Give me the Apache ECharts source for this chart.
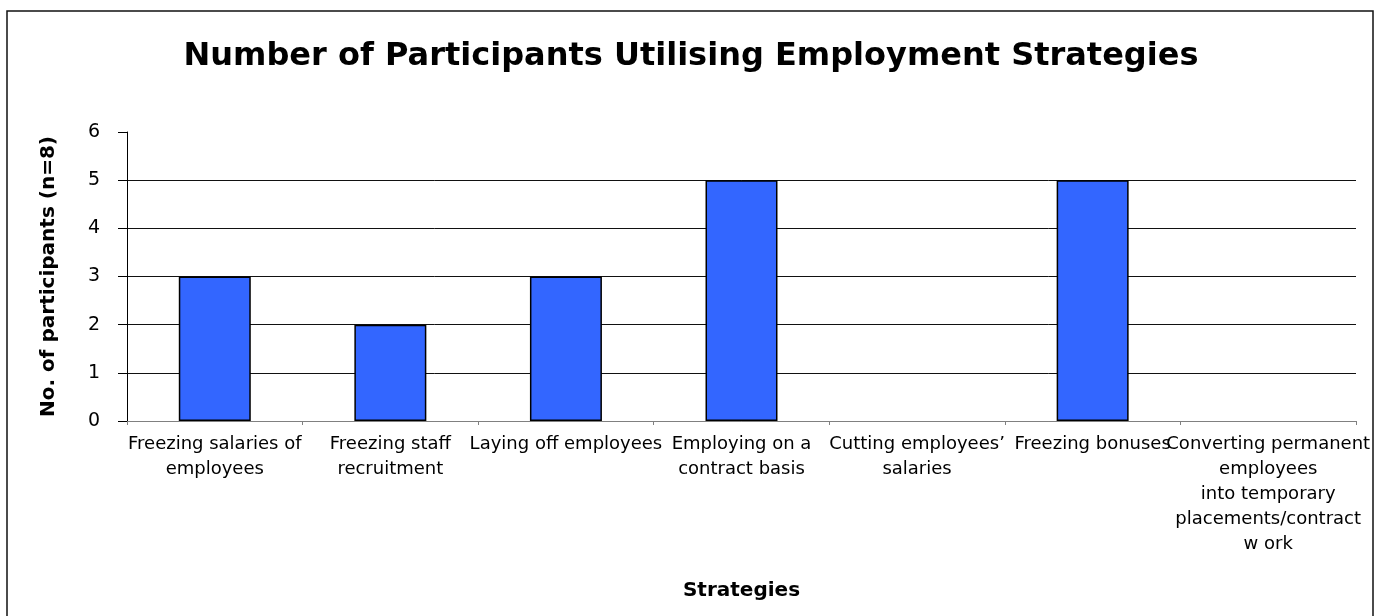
<!DOCTYPE html>
<html>
<head>
<meta charset="utf-8">
<script src="https://cdn.jsdelivr.net/npm/echarts@6/dist/echarts.min.js"></script>
<style>html,body{margin:0;padding:0;background:#fff}#c{width:1382px;height:616px}</style>
</head>
<body>
<div id="c"></div>
<script>
const titleText = 'Number of Participants Utilising Employment Strategies';
const categories = [
  'Freezing salaries of\nemployees',
  'Freezing staff\nrecruitment',
  'Laying off employees',
  'Employing on a\ncontract basis',
  'Cutting employees\u2019\nsalaries',
  'Freezing bonuses',
  'Converting permanent\nemployees\ninto temporary\nplacements/contract\nw ork'
];
const participants = [3, 2, 3, 5, 0, 5, 0];
const yTicks = [0, 1, 2, 3, 4, 5, 6];
const xAxisTitle = 'Strategies';
const yAxisTitle = 'No. of participants (n=8)';

const FONT = 'DejaVu Sans';
const chart = echarts.init(document.getElementById('c'), null, {renderer: 'canvas'});
chart.setOption({
  animation: false,
  backgroundColor: '#fff',
  textStyle: {fontFamily: FONT, color: '#000'},
  title: {
    text: titleText, left: 'center', top: 36,
    textStyle: {fontFamily: FONT, fontSize: 32, fontWeight: 'bold', color: '#000'}
  },
  graphic: [{
    type: 'rect', shape: {x: 7, y: 11, width: 1366, height: 640},
    style: {fill: 'none', stroke: '#111', lineWidth: 1.5}, silent: true
  }],
  grid: {left: 127, right: 26, top: 132, bottom: 195, containLabel: false},
  xAxis: {
    type: 'category', data: categories,
    name: xAxisTitle, nameLocation: 'middle', nameGap: 160,
    nameTextStyle: {fontFamily: FONT, fontSize: 20, fontWeight: 'bold', color: '#000'},
    axisLine: {lineStyle: {color: '#808080', width: 1}},
    axisTick: {show: true, length: 4, lineStyle: {color: '#808080'}, alignWithLabel: false},
    axisLabel: {interval: 0, margin: 11, fontSize: 18, lineHeight: 25, color: '#000', fontFamily: FONT, align: 'center'},
    splitLine: {show: false}
  },
  yAxis: {
    type: 'value', min: yTicks[0], max: yTicks[yTicks.length - 1], interval: 1,
    name: yAxisTitle, nameLocation: 'middle', nameRotate: 90, nameGap: 68,
    nameTextStyle: {fontFamily: FONT, fontSize: 20, fontWeight: 'bold', color: '#000'},
    axisLine: {show: true, lineStyle: {color: '#000', width: 1}},
    axisTick: {show: true, length: 9, lineStyle: {color: '#000'}},
    axisLabel: {margin: 27, fontSize: 19, color: '#000', fontFamily: FONT},
    splitLine: {show: true, lineStyle: {color: ['#808080', '#111', '#111', '#111', '#111', '#111', 'rgba(0,0,0,0)'], width: 1}}
  },
  series: [{
    type: 'bar', barWidth: '41%',
    data: participants.map(v => v === 0 ? {value: v, itemStyle: {borderWidth: 0}} : v),
    itemStyle: {color: '#3366FF', borderColor: '#000', borderWidth: 1.5}
  }]
});
</script>
</body>
</html>
